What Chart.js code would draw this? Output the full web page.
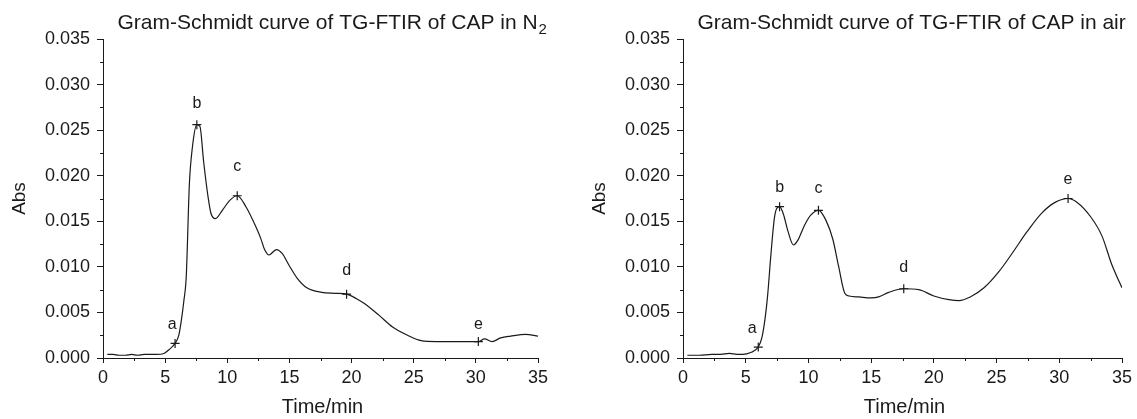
<!DOCTYPE html>
<html>
<head>
<meta charset="utf-8">
<script src="https://cdn.jsdelivr.net/npm/chart.js@4.4.1/dist/chart.umd.min.js"></script>
<style>
    html, body { margin: 0; padding: 0; background: #fff; }
    #wrap { position: relative; width: 1137px; height: 419px; }
    .box { position: absolute; top: 0; height: 419px; }
    #boxN2 { left: 0; width: 568px; }
    #boxAir { left: 568px; width: 569px; }
</style>
</head>
<body>
<div id="wrap">
    <div class="box" id="boxN2"><canvas id="chartN2"></canvas></div>
    <div class="box" id="boxAir"><canvas id="chartAir"></canvas></div>
</div>
<script>
// Gram-Schmidt curve, CAP in N2
const n2Time = [0.35, 0.8, 1.3, 1.8, 2.3, 2.8, 3.3, 3.8, 4.3, 4.9,
    5.3, 5.8, 6.1, 6.3, 6.5, 6.7, 6.95, 7.2, 7.55, 7.8,
    8.1, 8.45, 8.7, 9.05, 9.6, 10.2, 10.8, 11.5, 12.3, 12.7,
    13.0, 13.35, 13.95, 14.4, 15.0, 15.6, 16.4, 17.6, 18.7, 19.6,
    20.4, 21.0, 22.2, 23.3, 24.5, 25.6, 26.8, 28.5, 30.2, 30.7,
    31.3, 32.0, 32.8, 34.0, 35.0]
const n2Abs = [0.0004, 0.0004, 0.0003, 0.0003, 0.0004, 0.0003, 0.0004, 0.0004, 0.0004, 0.0005,
    0.0009, 0.0016, 0.0025, 0.0041, 0.0062, 0.0090, 0.0191, 0.0232, 0.0256, 0.0254,
    0.0215, 0.0177, 0.0158, 0.0153, 0.0162, 0.0173, 0.0178, 0.0166, 0.0144, 0.0131,
    0.0119, 0.0113, 0.0119, 0.0115, 0.0101, 0.0088, 0.0077, 0.0072, 0.0071, 0.0070,
    0.0065, 0.0060, 0.0047, 0.0034, 0.0025, 0.0019, 0.0018, 0.0018, 0.0018, 0.0021,
    0.0018, 0.0022, 0.0024, 0.0026, 0.0024]
const n2MarkTime = [5.8, 7.55, 10.8, 19.6, 30.2]
const n2MarkAbs = [0.0016, 0.0256, 0.0178, 0.0070, 0.0018]

// Gram-Schmidt curve, CAP in air
const airTime = [0.35, 1.3, 2.3, 3.0, 3.7, 4.3, 4.75, 5.4, 6.0, 6.3,
    6.55, 6.75, 7.0, 7.28, 7.47, 7.7, 8.0, 8.35, 8.8, 9.15,
    9.7, 10.2, 10.8, 11.4, 11.95, 12.4, 12.9, 13.25, 14.05, 15.0,
    15.6, 16.4, 17.6, 18.8, 20.0, 21.2, 22.0, 22.9, 24.0, 25.2,
    26.3, 27.4, 28.6, 29.7, 30.7, 31.4, 32.5, 33.4, 34.2, 35.0]
const airAbs = [0.0003, 0.0003, 0.0004, 0.0004, 0.0005, 0.0004, 0.0004, 0.0006, 0.0012, 0.0023,
    0.0044, 0.0069, 0.0112, 0.0153, 0.0164, 0.0166, 0.0158, 0.0140, 0.0124, 0.0129,
    0.0146, 0.0157, 0.0162, 0.0151, 0.0130, 0.0101, 0.0071, 0.0068, 0.0067, 0.0066,
    0.0067, 0.0072, 0.0076, 0.0075, 0.0068, 0.0064, 0.0063, 0.0067, 0.0077, 0.0095,
    0.0116, 0.0138, 0.0159, 0.0171, 0.0175, 0.0171, 0.0155, 0.0134, 0.0102, 0.0077]
const airMarkTime = [6.0, 7.7, 10.8, 17.6, 30.7]
const airMarkAbs = [0.0012, 0.0166, 0.0162, 0.0076, 0.0175]

const markLetters = ['a', 'b', 'c', 'd', 'e']
const xTicks = [0, 5, 10, 15, 20, 25, 30, 35]
const yTicks = [0, 0.005, 0.01, 0.015, 0.02, 0.025, 0.03, 0.035]

const FONT = '"Liberation Sans", Arial, Helvetica, sans-serif'
const INK = '#1a1a1a'

const toPoints = (xs, ys) => xs.map((x, i) => ({ x: x, y: ys[i] }))

// titles, axis names, peak letters and the short minor ticks
const textPlugin = {
    id: 'chartText',
    afterDraw (chart, args, opts) {
        const ctx = chart.ctx
        const area = chart.chartArea
        const xs = chart.scales.x
        const ys = chart.scales.y
        ctx.save()
        ctx.fillStyle = INK
        ctx.strokeStyle = INK
        ctx.lineWidth = 1

        // minor ticks
        ctx.beginPath()
        for (let i = 0; i < xTicks.length - 1; i++) {
            const px = Math.round(xs.getPixelForValue((xTicks[i] + xTicks[i + 1]) / 2)) + 0.5
            ctx.moveTo(px, area.bottom)
            ctx.lineTo(px, area.bottom + 3)
        }
        for (let i = 0; i < yTicks.length - 1; i++) {
            const py = Math.round(ys.getPixelForValue((yTicks[i] + yTicks[i + 1]) / 2)) + 0.5
            ctx.moveTo(area.left, py)
            ctx.lineTo(area.left - 3, py)
        }
        ctx.stroke()

        // chart title, subscript after it
        ctx.textBaseline = 'alphabetic'
        ctx.textAlign = 'left'
        const tx = area.left + 14.5
        ctx.font = '21px ' + FONT
        ctx.fillText(opts.title, tx, 29)
        if (opts.sub) {
            const w = ctx.measureText(opts.title).width
            ctx.font = '15px ' + FONT
            ctx.fillText(opts.sub, tx + w + 1, 34)
        }

        // axis names
        ctx.font = '20px ' + FONT
        ctx.textAlign = 'center'
        ctx.fillText('Time/min', (area.left + area.right) / 2 + 2, 413)
        ctx.font = '19px ' + FONT
        ctx.save()
        ctx.translate(area.left - 83, (area.top + area.bottom) / 2)
        ctx.rotate(-Math.PI / 2)
        ctx.textBaseline = 'middle'
        ctx.fillText('Abs', 0, 0)
        ctx.restore()

        // peak letters
        ctx.font = '16px ' + FONT
        ctx.textBaseline = 'alphabetic'
        opts.markTime.forEach((t, i) => {
            const px = xs.getPixelForValue(t) + opts.shiftX[i]
            const py = ys.getPixelForValue(opts.markAbs[i]) - opts.lift[i]
            ctx.fillText(markLetters[i], px, py)
        })
        ctx.restore()
    },
}

const drawCurve = (canvasId, times, values, markTime, markAbs, text, pad, yWidth) => {
    const ctx = document.getElementById(canvasId)
    new Chart(ctx, {
        type: 'scatter',
        data: {
            datasets: [
                {
                    data: toPoints(times, values),
                    showLine: true,
                    borderColor: INK,
                    borderWidth: 1.2,
                    pointRadius: 0,
                    cubicInterpolationMode: 'monotone',
                    fill: false,
                }, {
                    data: toPoints(markTime, markAbs),
                    showLine: false,
                    pointStyle: 'cross',
                    pointRadius: 4.5,
                    borderColor: INK,
                    borderWidth: 1.2,
                }],
        },
        plugins: [textPlugin],
        options: {
            responsive: true,
            maintainAspectRatio: false,
            animation: false,
            events: [],
            layout: {
                padding: { left: pad.left, right: pad.right, top: 39, bottom: 0 },
            },
            plugins: {
                legend: { display: false },
                tooltip: { enabled: false },
                chartText: text,
            },
            scales: {
                x: {
                    type: 'linear',
                    min: 0,
                    max: 35,
                    afterBuildTicks: (scale) => {
                        scale.ticks = xTicks.map(v => ({ value: v }))
                    },
                    afterFit: (scale) => {
                        scale.height = 61
                    },
                    border: { display: true, color: INK, width: 1 },
                    grid: { drawOnChartArea: false, drawTicks: true, tickLength: 5, color: INK },
                    ticks: {
                        color: INK,
                        padding: 4,
                        maxRotation: 0,
                        autoSkip: false,
                        font: { family: FONT, size: 18 },
                        callback: (v) => String(v),
                    },
                },
                y: {
                    min: 0,
                    max: 0.035,
                    afterBuildTicks: (scale) => {
                        scale.ticks = yTicks.map(v => ({ value: v }))
                    },
                    afterFit: (scale) => {
                        scale.width = yWidth
                    },
                    border: { display: true, color: INK, width: 1 },
                    grid: { drawOnChartArea: false, drawTicks: true, tickLength: 6, color: INK },
                    ticks: {
                        color: INK,
                        padding: 7,
                        autoSkip: false,
                        font: { family: FONT, size: 18 },
                        callback: (v) => v.toFixed(3),
                    },
                },
            },
        },
    })
}

drawCurve('chartN2', n2Time, n2Abs, n2MarkTime, n2MarkAbs, {
    title: 'Gram-Schmidt curve of TG-FTIR of CAP in N',
    sub: '2',
    markTime: n2MarkTime,
    markAbs: n2MarkAbs,
    shiftX: [-3, 0, 0, 0, 0],
    lift: [14, 17, 25, 19, 13],
}, { left: 0, right: 30 }, 103)

drawCurve('chartAir', airTime, airAbs, airMarkTime, airMarkAbs, {
    title: 'Gram-Schmidt curve of TG-FTIR of CAP in air',
    sub: '',
    markTime: airMarkTime,
    markAbs: airMarkAbs,
    shiftX: [-6, 0, 0, 0, 0],
    lift: [14, 15, 17, 17, 15],
}, { left: 0, right: 15 }, 115)
</script>
</body>
</html>
